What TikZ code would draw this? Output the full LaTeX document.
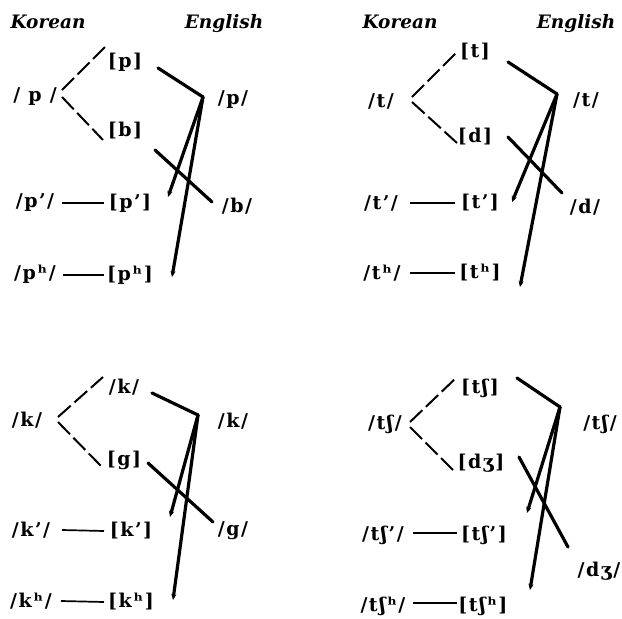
\documentclass[tikz,border=0pt]{standalone}
\usepackage{fontspec}
\usepackage{tikz}
\usetikzlibrary{arrows.meta,calc}
\newfontfamily\labfont[LetterSpace=8]{DejaVu Serif}
\newfontfamily\ttlfont{DejaVu Serif}

\begin{document}
\begin{tikzpicture}[x=1pt,y=-1pt,
        lab/.style={font=\fontsize{19}{22}\selectfont\labfont\bfseries,inner sep=1pt},
        ttl/.style={font=\fontsize{18.5}{22}\selectfont\ttlfont\bfseries\itshape,inner sep=0pt},
        dsh/.style={line width=2pt,dash pattern=on 17pt off 5pt},
        rel/.style={line width=1.7pt},
        hand/.style={line width=3.2pt,line cap=round,line join=round},
        tip/.style={hand,-{Stealth[length=6pt,width=5pt]}}]
    \useasboundingbox (0,0) rectangle (622,619);

    \foreach \n/\x in {1/0,2/352}{
        \node[ttl] (kor\n) at (48+\x,22) {Korean};
        \node[ttl] (eng\n) at (224+\x,24) {English};
    }

    % p
    \node[lab] (kp1) at (35,97) {/ p /};
    \node[lab] (ap1) at (125,62) {[p]};
    \node[lab] (ab1) at (125,131) {[b]};
    \node[lab] (kpp1) at (35,203) {/p’/};
    \node[lab] (app1) at (130,203) {[p’]};
    \node[lab] (kph1) at (35,274) {/pʰ/};
    \node[lab] (aph1) at (130,275) {[pʰ]};
    \node[lab] (ep1) at (233,100) {/p/};
    \node[lab] (eb1) at (237,206) {/b/};
    \coordinate (v1) at ($(ep1)+(-30,-3)$);
    \draw[dsh] ($(kp1)+(27,-7)$) -- ($(ap1)+(-20,-15)$);
    \draw[dsh] ($(kp1)+(27,0)$) -- ($(ab1)+(-22,9)$);
    \draw[rel] ($(kpp1)+(27,0)$) -- ($(app1)+(-26,0)$);
    \draw[rel] ($(kph1)+(28,1)$) -- ($(aph1)+(-26,0)$);
    \draw[hand] ($(ap1)+(33,6)$) -- (v1);
    \draw[tip] (v1) -- ($(app1)+(38,-6)$);
    \draw[tip] (v1) -- ($(aph1)+(42,2)$);
    \draw[hand] ($(ab1)+(30,19)$) -- ($(eb1)+(-25,-4)$);

    % t
    \node[lab] (kt2) at (381,101) {/t/};
    \node[lab] (at2) at (475,52) {[t]};
    \node[lab] (ad2) at (475,137) {[d]};
    \node[lab] (ktp2) at (381,203) {/t’/};
    \node[lab] (atp2) at (480,203) {[t’]};
    \node[lab] (kth2) at (382,273) {/tʰ/};
    \node[lab] (ath2) at (480,273) {[tʰ]};
    \node[lab] (et2) at (586,100) {/t/};
    \node[lab] (ed2) at (585,207) {/d/};
    \coordinate (v2) at ($(et2)+(-29,-6)$);
    \draw[dsh] ($(kt2)+(31,-4)$) -- ($(at2)+(-18,0)$);
    \draw[dsh] ($(kt2)+(31,1)$) -- ($(ad2)+(-18,6)$);
    \draw[rel] ($(ktp2)+(29,0)$) -- ($(atp2)+(-25,0)$);
    \draw[rel] ($(kth2)+(28,0)$) -- ($(ath2)+(-25,0)$);
    \draw[hand] ($(at2)+(33,10)$) -- (v2);
    \draw[tip] (v2) -- ($(atp2)+(32,-1)$);
    \draw[tip] (v2) -- ($(ath2)+(40,14)$);
    \draw[hand] ($(ad2)+(33,0)$) -- ($(ed2)+(-23,-14)$);

    % k
    \node[lab] (kk3) at (27,420) {/k/};
    \node[lab] (ak3) at (124,387) {/k/};
    \node[lab] (ag3) at (124,460) {[g]};
    \node[lab] (kkp3) at (31,530) {/k’/};
    \node[lab] (akp3) at (131,531) {[k’]};
    \node[lab] (kkh3) at (31,601) {/kʰ/};
    \node[lab] (akh3) at (131,602) {[kʰ]};
    \node[lab] (ek3) at (233,421) {/k/};
    \node[lab] (eg3) at (233,531) {/g/};
    \coordinate (v3) at ($(ek3)+(-35,-6)$);
    \draw[dsh] ($(kk3)+(31,-3)$) -- ($(ak3)+(-21,-10)$);
    \draw[dsh] ($(kk3)+(31,2)$) -- ($(ag3)+(-22,7)$);
    \draw[rel] ($(kkp3)+(31,0)$) -- ($(akp3)+(-27,0)$);
    \draw[rel] ($(kkh3)+(30,0)$) -- ($(akh3)+(-27,0)$);
    \draw[hand] ($(ak3)+(28,6)$) -- (v3);
    \draw[tip] (v3) -- ($(akp3)+(39,-14)$);
    \draw[tip] (v3) -- ($(akh3)+(42,-2)$);
    \draw[hand] ($(ag3)+(24,3)$) -- ($(eg3)+(-20,-9)$);

    % tS
    \node[lab] (kc4) at (385,424) {/tʃ/};
    \node[lab] (ac4) at (480,388) {[tʃ]};
    \node[lab] (aj4) at (481,463) {[dʒ]};
    \node[lab] (kcp4) at (383,535) {/tʃ’/};
    \node[lab] (acp4) at (484,535) {[tʃ’]};
    \node[lab] (kch4) at (383,606) {/tʃʰ/};
    \node[lab] (ach4) at (483,606) {[tʃʰ]};
    \node[lab] (ec4) at (600,424) {/tʃ/};
    \node[lab] (ej4) at (599,571) {/dʒ/};
    \coordinate (v4) at ($(ec4)+(-40,-17)$);
    \draw[dsh] ($(kc4)+(25,-2)$) -- ($(ac4)+(-23,-11)$);
    \draw[dsh] ($(kc4)+(25,3)$) -- ($(aj4)+(-28,7)$);
    \draw[rel] ($(kcp4)+(30,-2)$) -- ($(acp4)+(-27,-2)$);
    \draw[rel] ($(kch4)+(30,-3)$) -- ($(ach4)+(-26,-3)$);
    \draw[hand] ($(ac4)+(37,-10)$) -- (v4);
    \draw[tip] (v4) -- ($(acp4)+(43,-22)$);
    \draw[tip] (v4) -- ($(ach4)+(47,-16)$);
    \draw[hand] ($(aj4)+(38,-6)$) -- ($(ej4)+(-31,-24)$);
\end{tikzpicture}
\end{document}
